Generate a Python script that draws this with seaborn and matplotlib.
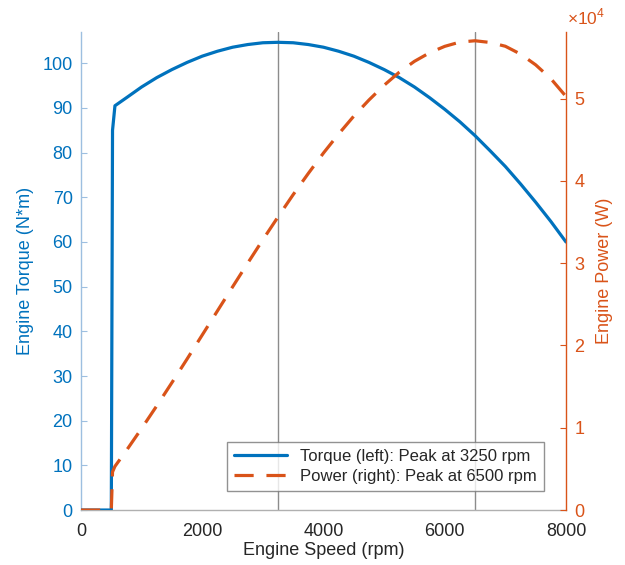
import numpy as np
import pandas as pd
import matplotlib
matplotlib.use("Agg")
import matplotlib.pyplot as plt
import matplotlib.ticker as mticker
import seaborn as sns

# ---- data ----
speed_rpm = [0, 500, 520, 560, 750, 1000, 1250, 1500, 1750, 2000, 2250, 2500, 2750,
             3000, 3250, 3500, 3750, 4000, 4250, 4500, 4750, 5000, 5250, 5500,
             5750, 6000, 6250, 6500, 6750, 7000, 7250, 7500, 7750, 8000]
torque_nm = [0, 0, 85.0, 90.5, 92.3, 94.7, 96.8, 98.6, 100.2, 101.6, 102.7, 103.6, 104.2,
             104.6, 104.7, 104.6, 104.2, 103.6, 102.7, 101.6, 100.2, 98.6, 96.8, 94.7,
             92.3, 89.7, 86.9, 83.8, 80.4, 76.9, 73.0, 68.9, 64.6, 60.0]
power_w = [0, 0, 4630, 5310, 7250, 9920, 12670, 15490, 18360, 21280, 24200, 27120, 30010,
           32860, 35630, 38340, 40920, 43400, 45710, 47880, 49840, 51630, 53220, 54540,
           55580, 56360, 56880, 57040, 56830, 56370, 55420, 54110, 52430, 50270]
peak_lines = [3250, 6500]
torque_label = "Torque (left): Peak at 3250 rpm"
power_label = "Power (right): Peak at 6500 rpm"

df = pd.DataFrame({"speed": speed_rpm, "torque": torque_nm, "power": power_w})

BLUE = "#0072BD"
ORANGE = "#D95319"

sns.set_style("white")
plt.rcParams["font.family"] = ["Liberation Sans", "DejaVu Sans"]
plt.rcParams["mathtext.fontset"] = "custom"
plt.rcParams["mathtext.rm"] = "Liberation Sans"

fig = plt.figure(figsize=(6.25, 5.65), dpi=100)
ax = fig.add_axes([0.1296, 0.0973, 0.776, 0.846])
ax2 = ax.twinx()

for x in peak_lines:
    ax.axvline(x, color="#8c8c8c", lw=1.0, zorder=1)

sns.lineplot(data=df, x="speed", y="torque", ax=ax, color=BLUE, lw=2.3,
             label=torque_label, legend=False, zorder=3)
sns.lineplot(data=df, x="speed", y="power", ax=ax2, color=ORANGE, lw=2.3,
             label=power_label, legend=False, zorder=3)
ax2.lines[0].set_dashes((6, 4))

ax.set_xlim(0, 8000)
ax.set_ylim(0, 107)
ax2.set_ylim(0, 58100)
ax.set_xticks([0, 2000, 4000, 6000, 8000])
ax.set_yticks(range(0, 101, 10))
ax2.set_yticks([0, 10000, 20000, 30000, 40000, 50000])
ax2.yaxis.set_major_formatter(mticker.FuncFormatter(lambda v, p: f"{v/1e4:g}"))
fig.text(567 / 625, 1 - 17 / 565, r"×10$^{4}$", color=ORANGE, fontsize=12.5,
         ha="left", va="center")

ax.set_xlabel("Engine Speed (rpm)", fontsize=13, color="#262626", labelpad=2)
ax.set_ylabel("Engine Torque (N*m)", fontsize=13, color=BLUE, labelpad=6)
ax2.set_ylabel("Engine Power (W)", fontsize=13, color=ORANGE, labelpad=8)

for a in (ax, ax2):
    a.spines["top"].set_visible(False)
ax.spines["right"].set_visible(False)
ax2.spines["left"].set_visible(False)
ax2.spines["bottom"].set_visible(False)
ax.spines["left"].set_color("#9dbfe0")
ax.spines["bottom"].set_color("#b0b0b0")
ax2.spines["right"].set_color(ORANGE)
for s in ("left", "bottom"):
    ax.spines[s].set_linewidth(1.0)
ax2.spines["right"].set_linewidth(1.0)

ax.tick_params(axis="x", direction="in", length=4, colors="#b0b0b0",
               labelcolor="#262626", labelsize=13, pad=9)
ax.tick_params(axis="y", direction="in", length=4, colors="#9dbfe0",
               labelcolor=BLUE, labelsize=13, pad=6)
ax2.tick_params(axis="y", direction="in", length=4, colors=ORANGE,
                labelcolor=ORANGE, labelsize=13, pad=6)

h1, l1 = ax.get_legend_handles_labels()
h2, l2 = ax2.get_legend_handles_labels()
leg = ax2.legend(h1 + h2, l1 + l2, loc="lower right",
                 bbox_to_anchor=(0.971, 0.023), fontsize=12, frameon=True,
                 fancybox=False, edgecolor="#777777", handlelength=3.2,
                 borderpad=0.4, labelspacing=0.3)
leg.get_frame().set_linewidth(1.0)

fig.savefig("out.png", dpi=100)
